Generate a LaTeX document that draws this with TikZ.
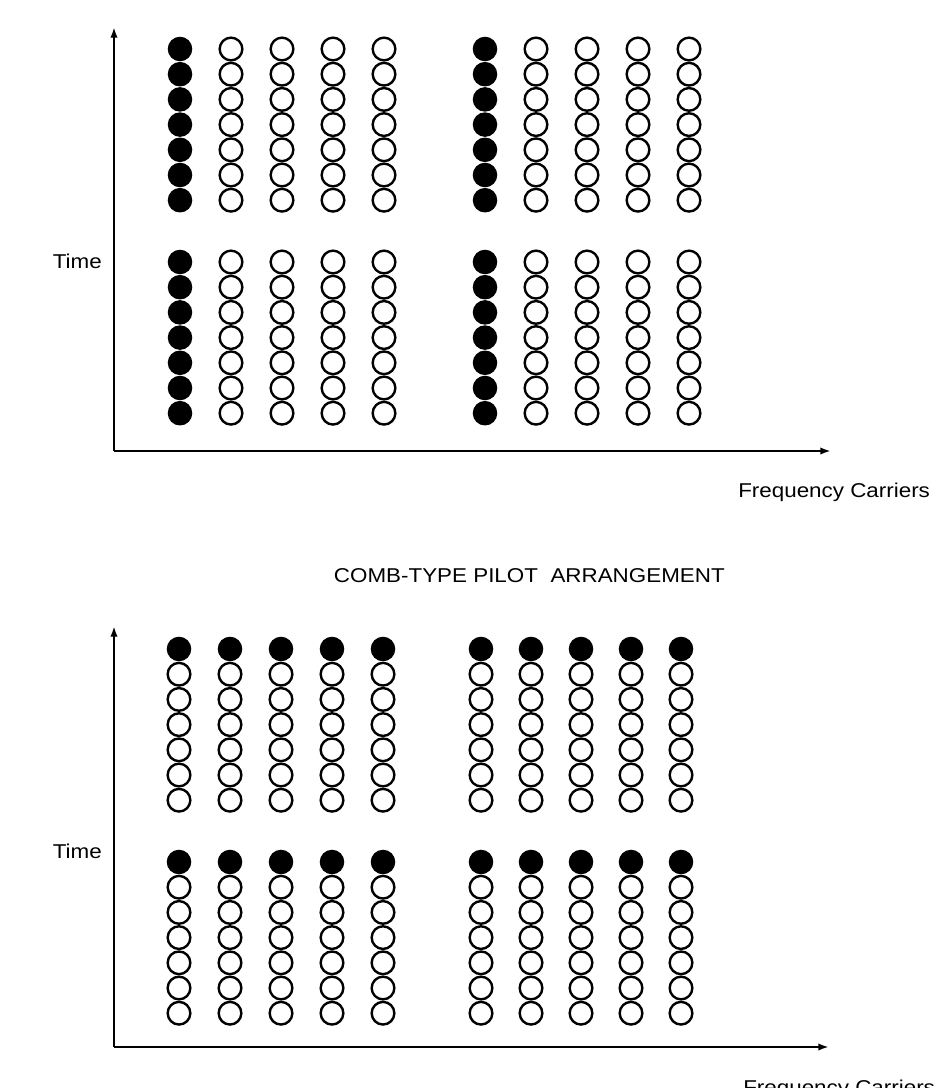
\documentclass[tikz,border=0pt]{standalone}
\usepackage{graphicx}
\usepackage{fontspec}
\setmainfont{Liberation Sans}
\usetikzlibrary{arrows.meta}
\newcommand\stretchlab[1]{\scalebox{1.12}[1]{#1}}
\begin{document}
\begin{tikzpicture}[x=0.75pt,y=-0.75pt,
  datac/.style={circle,draw=black,line width=1.8pt,fill=white,minimum size=17pt,inner sep=0pt,outer sep=0pt},
  pilotc/.style={circle,fill=black,minimum size=18.4pt,inner sep=0pt,outer sep=0pt},
  axisl/.style={line width=1.8pt,-{Latex[length=8pt,width=5.5pt]}},
  lab/.style={inner sep=0pt,font=\fontsize{15}{18}\selectfont}]
\useasboundingbox (0,0) rectangle (934,1088);
% ---------- top panel: comb-type ----------
\coordinate (o1) at (114,451);
\coordinate (ty1) at (114,27);
\coordinate (tx1) at (831,451);
\draw[axisl] (o1) -- (ty1);
\draw[axisl] (o1) -- (tx1);
\foreach \b/\y in {a/49, b/262}{
  \foreach \g/\x in {l/180, r/485}{
    \foreach \r in {0,...,6}{
      \node[pilotc] (c1-\b-\g-0-\r) at (\x,\y+25.2*\r) {};
      \foreach \c in {1,...,4}{
        \node[datac] (c1-\b-\g-\c-\r) at (\x+51*\c,\y+25.2*\r) {};
      }
    }
  }
}
\node[lab,anchor=base east] (time1) at (102,268) {\stretchlab{Time}};
\node[lab,anchor=base west] (freq1) at (738,497) {\stretchlab{Frequency Carriers}};
\node[lab,anchor=base east] (title1) at (725,582) {\stretchlab{COMB-TYPE PILOT\ \ ARRANGEMENT}};
% ---------- bottom panel: block-type ----------
\coordinate (o2) at (114,1047);
\coordinate (ty2) at (114,626);
\coordinate (tx2) at (829,1047);
\draw[axisl] (o2) -- (ty2);
\draw[axisl] (o2) -- (tx2);
\foreach \b/\y in {a/649, b/862}{
  \foreach \g/\x/\s in {l/179/51, r/481/50}{
    \foreach \c in {0,...,4}{
      \node[pilotc] (c2-\b-\g-\c-0) at (\x+\s*\c,\y) {};
      \foreach \r in {1,...,6}{
        \node[datac] (c2-\b-\g-\c-\r) at (\x+\s*\c,\y+25.2*\r) {};
      }
    }
  }
}
\node[lab,anchor=base east] (time2) at (102,858) {\stretchlab{Time}};
\node[lab,anchor=base west] (freq2) at (743,1094) {\stretchlab{Frequency Carriers}};
\end{tikzpicture}
\end{document}
